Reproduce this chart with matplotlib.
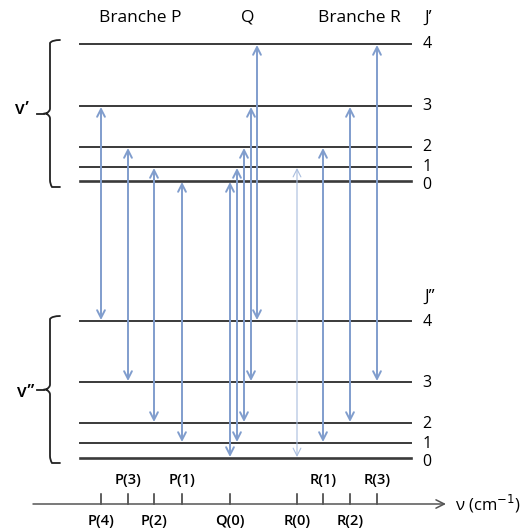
"""Rotational-vibrational transitions: P, Q and R branches."""

import matplotlib.pyplot as plt
from matplotlib.path import Path
from matplotlib.patches import PathPatch

ARROW = "#809dcd"
LEVEL = "#3a3a3a"
FONT = ["Open Sans", "DejaVu Sans"]

# level heights (image units, measured from the top)
upper_J = [0, 1, 2, 3, 4]
upper_y = [181, 167, 147, 106, 44]
lower_J = [0, 1, 2, 3, 4]
lower_y = [458, 443, 423, 382, 321]

# transitions: label, position on the wavenumber axis, J'' -> J'
trans_labels = ["P(4)", "P(3)", "P(2)", "P(1)", "Q(0)", "", "", "", "",
                "R(0)", "R(1)", "R(2)", "R(3)"]
trans_x = [101, 128, 154, 182, 230, 237, 244, 251, 257, 297, 323, 350, 377]
trans_lower = [4, 3, 2, 1, 0, 1, 2, 3, 4, 0, 1, 2, 3]
trans_upper = [3, 2, 1, 0, 0, 1, 2, 3, 4, 1, 2, 3, 4]
labels_above = ["P(3)", "P(1)", "R(1)", "R(3)"]


def brace(ax, top, bottom, x=50, tip=44):
    mid = (top + bottom) / 2
    verts = [(60, top), (52, top), (x, top + 3), (x, top + 7),
             (x, mid - 5), (x, mid - 2), (tip + 2, mid), (tip, mid),
             (tip + 2, mid), (x, mid + 2), (x, mid + 5),
             (x, bottom - 7), (x, bottom - 3), (52, bottom), (60, bottom)]
    codes = [Path.MOVETO, Path.CURVE3, Path.CURVE3, Path.LINETO,
             Path.LINETO, Path.CURVE3, Path.CURVE3, Path.LINETO,
             Path.MOVETO, Path.CURVE3, Path.CURVE3,
             Path.LINETO, Path.CURVE3, Path.CURVE3, Path.LINETO]
    ax.add_patch(PathPatch(Path(verts, codes), fill=False, lw=1.3,
                           color="#222222", capstyle="round"))
    ax.plot([37, tip], [mid, mid], color="#222222", lw=1.3)


fig = plt.figure(figsize=(5.24, 5.31), dpi=100)
ax = fig.add_axes([0, 0, 1, 1])
ax.set_xlim(0, 524)
ax.set_ylim(531, 0)
ax.axis("off")

for J, y in zip(upper_J, upper_y):
    ax.plot([80, 411], [y, y], color=LEVEL, lw=1.9 if J == 0 else 1.4)
    ax.text(427, y + (4 if J == 0 else 0), str(J), fontsize=11.5, family=FONT,
            va="center", ha="center")
for J, y in zip(lower_J, lower_y):
    ax.plot([80, 411], [y, y], color=LEVEL, lw=1.9 if J == 0 else 1.4)
    ax.text(427, y + (4 if J == 0 else 1), str(J), fontsize=11.5, family=FONT,
            va="center", ha="center")

for lab, x, jl, ju in zip(trans_labels, trans_x, trans_lower, trans_upper):
    y0 = lower_y[lower_J.index(jl)]
    y1 = upper_y[upper_J.index(ju)]
    thin = lab == "R(0)"
    ax.annotate("", xy=(x, y1 + 1), xytext=(x, y0 - 1),
                arrowprops=dict(arrowstyle="<->,head_length=0.55,head_width=0.28",
                                color="#aabede" if thin else ARROW,
                                lw=0.8 if thin else 1.4,
                                shrinkA=0, shrinkB=0))
    if lab:
        ax.plot([x, x], [494, 504], color="#333333", lw=1.1)
        above = lab in labels_above
        ax.text(x, 480 if above else 521, lab, fontsize=10.5, family=FONT,
                weight="semibold", ha="center", va="center")

# wavenumber axis
ax.annotate("", xy=(446, 504), xytext=(33, 504),
            arrowprops=dict(arrowstyle="->,head_length=0.6,head_width=0.3",
                            color="#555555", lw=1.1, shrinkA=0, shrinkB=0))
ax.text(455, 504, "ν (cm$^{-1}$)", fontsize=12, family=FONT, va="center")

brace(ax, 40, 187)
brace(ax, 316, 463)
ax.text(22, 109, "v\u2019", fontsize=13, family=FONT, weight="semibold",
        ha="center", va="center")
ax.text(26, 392, "v\u2019\u2019", fontsize=13, family=FONT, weight="semibold",
        ha="center", va="center")

ax.text(140, 18, "Branche P", fontsize=12.5, family=FONT, ha="center", va="center")
ax.text(248, 18, "Q", fontsize=12.5, family=FONT, ha="center", va="center")
ax.text(359, 18, "Branche R", fontsize=12.5, family=FONT, ha="center", va="center")
ax.text(428, 18, "J\u2019", fontsize=12.5, family=FONT, ha="center", va="center")
ax.text(430, 297, "J\u2019\u2019", fontsize=12.5, family=FONT, ha="center", va="center")

fig.savefig("out.png", dpi=100)
